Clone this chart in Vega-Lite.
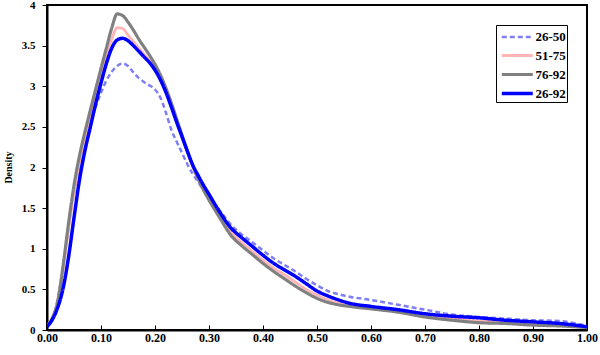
{
  "$schema": "https://vega.github.io/schema/vega-lite/v6.json",
  "autosize": {"type": "none"},
  "width": 540,
  "height": 325,
  "padding": {"left": 47, "top": 5, "right": 13, "bottom": 25},
  "background": "white",
  "config": {
    "view": {"stroke": "black", "strokeWidth": 2},
    "font": "Liberation Serif",
    "axis": {
      "grid": false,
      "domainColor": "black",
      "domainWidth": 2,
      "tickColor": "black",
      "tickWidth": 1,
      "labelFont": "Liberation Serif",
      "labelFontWeight": "bold",
      "labelColor": "black",
      "titleFont": "Liberation Serif",
      "titleFontWeight": "bold",
      "titleColor": "black"
    },
    "legend": {
      "labelFont": "Liberation Serif",
      "labelFontWeight": "bold",
      "labelColor": "black",
      "labelFontSize": 13
    }
  },
  "data": {
    "values": [
      {"x": 0.00, "26-50": 0.05, "51-75": 0.05, "76-92": 0.05, "26-92": 0.04},
      {"x": 0.01, "26-50": 0.15, "51-75": 0.15, "76-92": 0.15, "26-92": 0.13},
      {"x": 0.02, "26-50": 0.38, "51-75": 0.35, "76-92": 0.36, "26-92": 0.28},
      {"x": 0.03, "26-50": 0.80, "51-75": 0.76, "76-92": 0.80, "26-92": 0.52},
      {"x": 0.04, "26-50": 1.26, "51-75": 1.25, "76-92": 1.32, "26-92": 0.90},
      {"x": 0.05, "26-50": 1.68, "51-75": 1.70, "76-92": 1.78, "26-92": 1.38},
      {"x": 0.06, "26-50": 2.00, "51-75": 2.06, "76-92": 2.14, "26-92": 1.84},
      {"x": 0.07, "26-50": 2.28, "51-75": 2.35, "76-92": 2.43, "26-92": 2.20},
      {"x": 0.08, "26-50": 2.53, "51-75": 2.61, "76-92": 2.70, "26-92": 2.49},
      {"x": 0.09, "26-50": 2.74, "51-75": 2.88, "76-92": 2.96, "26-92": 2.78},
      {"x": 0.10, "26-50": 2.92, "51-75": 3.12, "76-92": 3.22, "26-92": 3.04},
      {"x": 0.11, "26-50": 3.07, "51-75": 3.37, "76-92": 3.47, "26-92": 3.28},
      {"x": 0.12, "26-50": 3.18, "51-75": 3.58, "76-92": 3.72, "26-92": 3.47},
      {"x": 0.13, "26-50": 3.25, "51-75": 3.72, "76-92": 3.89, "26-92": 3.57},
      {"x": 0.14, "26-50": 3.28, "51-75": 3.71, "76-92": 3.87, "26-92": 3.59},
      {"x": 0.15, "26-50": 3.25, "51-75": 3.63, "76-92": 3.79, "26-92": 3.56},
      {"x": 0.16, "26-50": 3.17, "51-75": 3.55, "76-92": 3.69, "26-92": 3.50},
      {"x": 0.17, "26-50": 3.10, "51-75": 3.47, "76-92": 3.58, "26-92": 3.43},
      {"x": 0.18, "26-50": 3.05, "51-75": 3.39, "76-92": 3.48, "26-92": 3.36},
      {"x": 0.19, "26-50": 3.01, "51-75": 3.31, "76-92": 3.38, "26-92": 3.29},
      {"x": 0.20, "26-50": 2.96, "51-75": 3.20, "76-92": 3.27, "26-92": 3.20},
      {"x": 0.21, "26-50": 2.86, "51-75": 3.08, "76-92": 3.14, "26-92": 3.08},
      {"x": 0.22, "26-50": 2.68, "51-75": 2.94, "76-92": 2.98, "26-92": 2.93},
      {"x": 0.23, "26-50": 2.47, "51-75": 2.76, "76-92": 2.80, "26-92": 2.75},
      {"x": 0.24, "26-50": 2.32, "51-75": 2.57, "76-92": 2.60, "26-92": 2.56},
      {"x": 0.25, "26-50": 2.18, "51-75": 2.38, "76-92": 2.40, "26-92": 2.38},
      {"x": 0.26, "26-50": 2.04, "51-75": 2.19, "76-92": 2.20, "26-92": 2.20},
      {"x": 0.27, "26-50": 1.92, "51-75": 2.01, "76-92": 2.02, "26-92": 2.03},
      {"x": 0.28, "26-50": 1.82, "51-75": 1.86, "76-92": 1.86, "26-92": 1.90},
      {"x": 0.29, "26-50": 1.72, "51-75": 1.73, "76-92": 1.72, "26-92": 1.78},
      {"x": 0.30, "26-50": 1.64, "51-75": 1.62, "76-92": 1.60, "26-92": 1.67},
      {"x": 0.32, "26-50": 1.47, "51-75": 1.41, "76-92": 1.38, "26-92": 1.45},
      {"x": 0.34, "26-50": 1.30, "51-75": 1.21, "76-92": 1.17, "26-92": 1.26},
      {"x": 0.36, "26-50": 1.18, "51-75": 1.08, "76-92": 1.04, "26-92": 1.14},
      {"x": 0.38, "26-50": 1.08, "51-75": 0.97, "76-92": 0.93, "26-92": 1.03},
      {"x": 0.40, "26-50": 0.98, "51-75": 0.86, "76-92": 0.82, "26-92": 0.92},
      {"x": 0.42, "26-50": 0.88, "51-75": 0.76, "76-92": 0.72, "26-92": 0.82},
      {"x": 0.44, "26-50": 0.80, "51-75": 0.68, "76-92": 0.63, "26-92": 0.74},
      {"x": 0.46, "26-50": 0.72, "51-75": 0.59, "76-92": 0.54, "26-92": 0.66},
      {"x": 0.48, "26-50": 0.63, "51-75": 0.50, "76-92": 0.46, "26-92": 0.57},
      {"x": 0.50, "26-50": 0.55, "51-75": 0.43, "76-92": 0.39, "26-92": 0.48},
      {"x": 0.52, "26-50": 0.48, "51-75": 0.37, "76-92": 0.34, "26-92": 0.42},
      {"x": 0.54, "26-50": 0.44, "51-75": 0.33, "76-92": 0.31, "26-92": 0.37},
      {"x": 0.56, "26-50": 0.41, "51-75": 0.30, "76-92": 0.29, "26-92": 0.33},
      {"x": 0.60, "26-50": 0.37, "51-75": 0.27, "76-92": 0.26, "26-92": 0.29},
      {"x": 0.65, "26-50": 0.31, "51-75": 0.23, "76-92": 0.22, "26-92": 0.25},
      {"x": 0.70, "26-50": 0.25, "51-75": 0.18, "76-92": 0.16, "26-92": 0.20},
      {"x": 0.75, "26-50": 0.19, "51-75": 0.14, "76-92": 0.12, "26-92": 0.17},
      {"x": 0.80, "26-50": 0.16, "51-75": 0.11, "76-92": 0.09, "26-92": 0.15},
      {"x": 0.85, "26-50": 0.14, "51-75": 0.10, "76-92": 0.08, "26-92": 0.12},
      {"x": 0.90, "26-50": 0.12, "51-75": 0.08, "76-92": 0.06, "26-92": 0.10},
      {"x": 0.95, "26-50": 0.11, "51-75": 0.06, "76-92": 0.05, "26-92": 0.08},
      {"x": 1.00, "26-50": 0.05, "51-75": 0.03, "76-92": 0.03, "26-92": 0.04}
    ]
  },
  "transform": [
    {"fold": ["26-50", "51-75", "76-92", "26-92"], "as": ["group", "density"]}
  ],
  "mark": {"type": "line", "interpolate": "monotone", "clip": true},
  "encoding": {
    "x": {
      "field": "x", "type": "quantitative",
      "scale": {"domain": [0, 1], "nice": false},
      "axis": {
        "title": null,
        "values": [0, 0.1, 0.2, 0.3, 0.4, 0.5, 0.6, 0.7, 0.8, 0.9, 1.0],
        "format": ".2f",
        "labelFontSize": 12,
        "tickSize": -5,
        "labelPadding": 7,
        "labelFlush": false
      }
    },
    "y": {
      "field": "density", "type": "quantitative",
      "scale": {"domain": [0, 4], "nice": false},
      "axis": {
        "title": "Density",
        "titleFontSize": 10,
        "titleX": -39,
        "titleY": 162,
        "titleAngle": -90,
        "titleAlign": "center",
        "titleBaseline": "middle",
        "values": [0, 0.5, 1, 1.5, 2, 2.5, 3, 3.5, 4],
        "labelExpr": "'' + datum.value",
        "labelFontSize": 11,
        "tickSize": 5,
        "labelPadding": 7,
        "labelFlush": false
      }
    },
    "color": {
      "field": "group", "type": "nominal",
      "scale": {"domain": ["26-50", "51-75", "76-92", "26-92"], "range": ["#7f7ff5", "#ffb5b5", "#808080", "#0000ff"]},
      "legend": {
        "title": null,
        "orient": "none",
        "legendX": 449,
        "legendY": 20,
        "symbolType": "M-0.69,0H2.49",
        "symbolSize": 380,
        "symbolFillColor": "transparent",
        "strokeColor": "black",
        "padding": 1,
        "rowPadding": 0,
        "labelOffset": 15.5,
        "fillColor": "white"
      }
    },
    "strokeWidth": {
      "field": "group", "type": "nominal",
      "scale": {"domain": ["26-50", "51-75", "76-92", "26-92"], "range": [2.5, 3.5, 3, 2.5]},
      "legend": {
        "title": null,
        "orient": "none",
        "legendX": 449,
        "legendY": 20,
        "symbolType": "M-0.69,0H2.49",
        "symbolSize": 380,
        "symbolFillColor": "transparent",
        "strokeColor": "black",
        "padding": 1,
        "rowPadding": 0,
        "labelOffset": 15.5,
        "fillColor": "white"
      }
    },
    "strokeDash": {
      "field": "group", "type": "nominal",
      "scale": {"domain": ["26-50", "51-75", "76-92", "26-92"], "range": [[5, 3], [1, 0], [1, 0], [1, 0]]},
      "legend": {
        "title": null,
        "orient": "none",
        "legendX": 449,
        "legendY": 20,
        "symbolType": "M-0.69,0H2.49",
        "symbolSize": 380,
        "symbolFillColor": "transparent",
        "strokeColor": "black",
        "padding": 1,
        "rowPadding": 0,
        "labelOffset": 15.5,
        "fillColor": "white"
      }
    }
  }
}
